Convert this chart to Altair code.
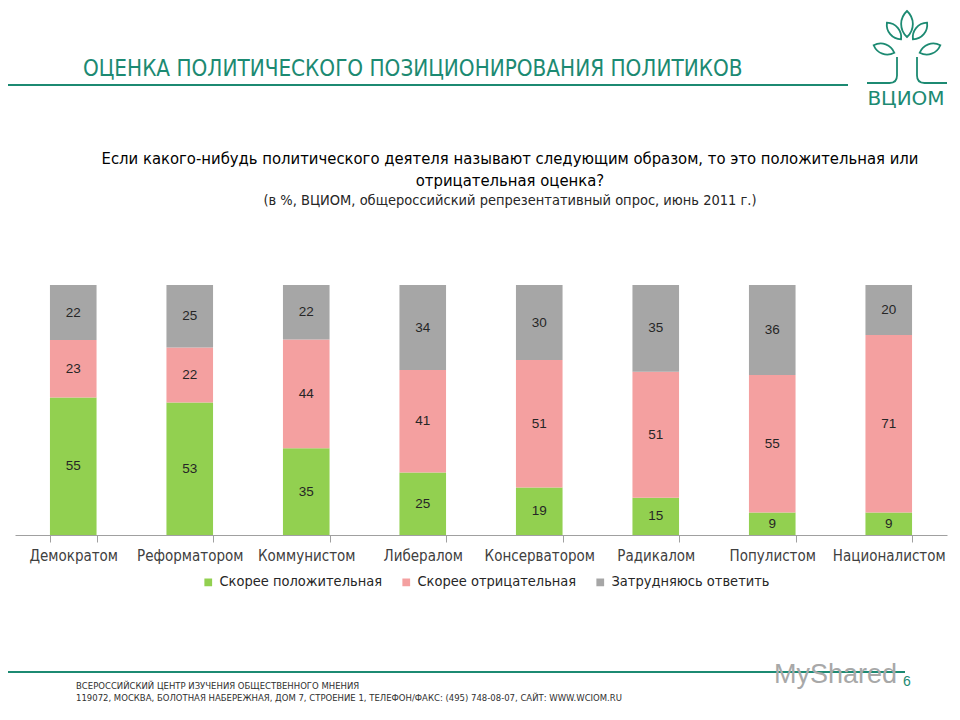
import altair as alt
import pandas as pd

categories = ["Демократом", "Реформатором", "Коммунистом", "Либералом",
              "Консерватором", "Радикалом", "Популистом", "Националистом"]
positive = [55, 53, 35, 25, 19, 15, 9, 9]
negative = [23, 22, 44, 41, 51, 51, 55, 71]
unsure = [22, 25, 22, 34, 30, 35, 36, 20]
series = ["Скорее положительная", "Скорее отрицательная", "Затрудняюсь ответить"]
colors = ["#92D050", "#F4A0A0", "#A6A6A6"]

rows = []
for i, c in enumerate(categories):
    for k, (s, vals) in enumerate(zip(series, [positive, negative, unsure])):
        rows.append({"cat": c, "series": s, "value": vals[i], "order": k})
df = pd.DataFrame(rows)

TEAL = "#1C8A72"
FONT = "DejaVu Sans Condensed, Liberation Sans, sans-serif"

W, H = 932, 250
PL, PT = 7, 277
OX, OY = 15, 285  # plot origin on the page

base = alt.Chart(df).transform_stack(
    stack="value", as_=["y0", "y1"], groupby=["cat"],
    sort=[alt.SortField("order", order="ascending")], offset="normalize"
).transform_calculate(mid="(datum.y0 + datum.y1) / 2")

xenc = alt.X("cat:N", sort=categories, title=None,
             scale=alt.Scale(paddingInner=0.6, paddingOuter=0.3),
             axis=alt.Axis(labelAngle=0, labelFontSize=15, labelColor="#404040",
                           labelFont=FONT, labelPadding=6, domainColor="#A0A0A0",
                           tickColor="#A0A0A0", tickBand="extent", tickSize=7,
                           labelLimit=200))

bars = base.mark_bar().encode(
    x=xenc,
    y=alt.Y("y0:Q", scale=alt.Scale(domain=[0, 1]), axis=None),
    y2="y1:Q",
    color=alt.Color("series:N", sort=series,
                    scale=alt.Scale(domain=series, range=colors),
                    legend=alt.Legend(title=None, orient="none", direction="horizontal",
                                      legendX=186, legendY=290, symbolType="square",
                                      symbolSize=60, symbolStrokeWidth=0,
                                      labelFontSize=14.5, labelFont=FONT,
                                      labelColor="#262626", columnPadding=16,
                                      labelLimit=300,
                                      symbolOffset=0, labelOffset=4)),
)

labels = base.mark_text(fontSize=13.5, color="#262626", font="Liberation Sans").encode(
    x=alt.X("cat:N", sort=categories),
    y=alt.Y("mid:Q", scale=alt.Scale(domain=[0, 1])),
    text="value:Q",
)

def txt(s, x, y, size, color="#000000", weight="normal", align="center", font=FONT):
    return alt.Chart(pd.DataFrame({"t": [s]})).mark_text(
        fontSize=size, color=color, fontWeight=weight, align=align,
        baseline="middle", font=font
    ).encode(text="t:N", x=alt.value(x - OX), y=alt.value(y - OY))

def hline(x1, x2, y, color, w):
    return alt.Chart(pd.DataFrame({"a": [0]})).mark_rule(color=color, strokeWidth=w).encode(
        x=alt.value(x1 - OX), x2=alt.value(x2 - OX), y=alt.value(y - OY))

def shape(path, x, y, r, angle=0, color=TEAL, w=1.8):
    return alt.Chart(pd.DataFrame({"a": [0]})).mark_point(
        shape=path, filled=False, stroke=color, strokeWidth=w, opacity=1,
        size=(2 * r) ** 2, angle=angle
    ).encode(x=alt.value(x - OX), y=alt.value(y - OY))

LEAF = "M0,-1 C0.6,-0.45 0.6,0.45 0,1 C-0.6,0.45 -0.6,-0.45 0,-1 Z"
TRUNK_L = "M1,-0.73 L1,0.5 Q1,1 0.5,1 L-1,1"
TRUNK_R = "M-1,-0.73 L-1,0.5 Q-1,1 -0.5,1 L1,1"

logo_parts = [
    shape(LEAF, 907, 24, 13, 0),
    shape(LEAF, 894, 31, 11, 320),
    shape(LEAF, 920, 31, 11, 40),
    shape(LEAF, 884, 49, 11, 290),
    shape(LEAF, 930, 49, 11, 70),
    shape(TRUNK_L, 882, 68, 15),
    shape(TRUNK_R, 932, 68, 15),
]

title = txt("ОЦЕНКА ПОЛИТИЧЕСКОГО ПОЗИЦИОНИРОВАНИЯ ПОЛИТИКОВ", 83, 69, 22.3, TEAL, align="left")
q1 = txt("Если какого-нибудь политического деятеля называют следующим образом, то это положительная или",
         510, 159, 16.5, "#000000")
q2 = txt("отрицательная оценка?", 510, 181, 16.5, "#000000")
sub = txt("(в %, ВЦИОМ, общероссийский  репрезентативный опрос, июнь 2011 г.)",
          510, 201, 14.5, "#262626")
logo = txt("ВЦИОМ", 906, 99, 20, TEAL, font="DejaVu Sans")
f1 = txt("ВСЕРОССИЙСКИЙ ЦЕНТР ИЗУЧЕНИЯ ОБЩЕСТВЕННОГО МНЕНИЯ", 76, 686, 8.5, "#303030",
         align="left", font="DejaVu Sans")
f2 = txt("119072, МОСКВА, БОЛОТНАЯ НАБЕРЕЖНАЯ, ДОМ 7, СТРОЕНИЕ 1, ТЕЛЕФОН/ФАКС: (495) 748-08-07, САЙТ: WWW.WCIOM.RU",
         76, 698, 8.5, "#303030", align="left", font="DejaVu Sans")
wm = txt("MyShared", 897, 675, 27, "#A8A8A8", align="right", font="Liberation Sans")
page = txt("6", 907, 682, 14, TEAL, font="Liberation Sans")

line1 = hline(0, 848, 85, TEAL, 2)
line2 = hline(0, 905, 672, TEAL, 2)

chart = alt.layer(bars, labels, line1, line2, *logo_parts, title, q1, q2, sub, logo,
                  f1, f2, wm, page).properties(
    width=W, height=H,
    padding={"left": PL, "top": PT, "right": 944 - PL - W, "bottom": 704 - PT - H},
    autosize=alt.AutoSizeParams(type="none"),
    background="white",
).configure_view(stroke=None, strokeWidth=0)

chart.save("out.html", embed_options={"renderer": "svg", "actions": False})
